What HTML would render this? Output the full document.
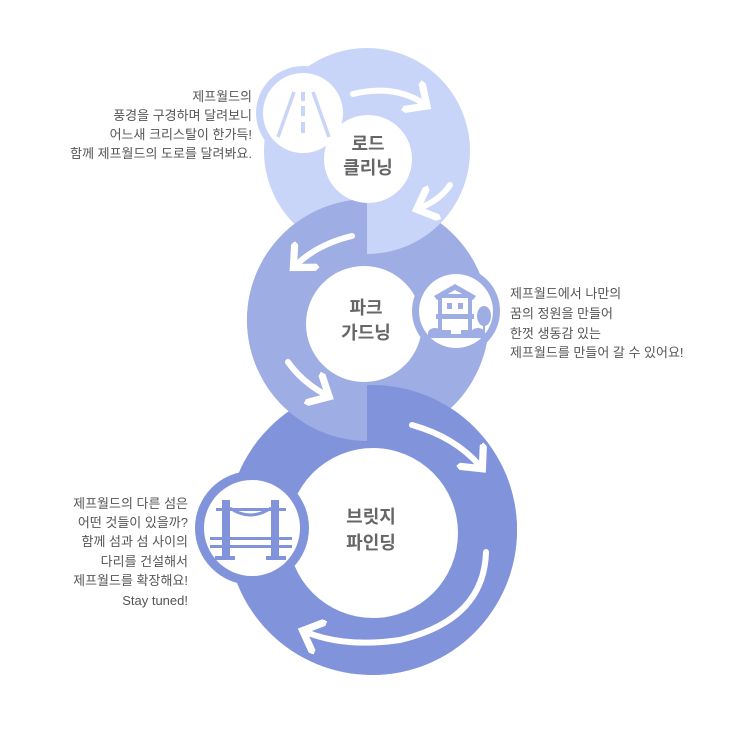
<!DOCTYPE html>
<html><head><meta charset="utf-8"><style>
html,body{margin:0;padding:0;background:#fff;}
svg{display:block}
text{font-family:"Liberation Sans","Noto Sans CJK KR",sans-serif;}
.t{font-size:13px;fill:#555;}
.lbl{font-size:18px;font-weight:bold;fill:#666;}
</style></head><body>
<svg width="735" height="735" viewBox="0 0 735 735" xmlns="http://www.w3.org/2000/svg">
<defs>
<clipPath id="L"><rect x="0" y="0" width="367" height="735"/></clipPath>
<clipPath id="R"><rect x="367" y="0" width="400" height="735"/></clipPath>
<marker id="ah" markerWidth="6" markerHeight="6" refX="2.6" refY="3" orient="auto" markerUnits="strokeWidth">
<path d="M0,0 L3.2,3 L0,6" fill="none" stroke="#fff" stroke-width="1.2" stroke-linejoin="miter"/>
</marker>
</defs>
<circle cx="372" cy="530" r="145" fill="#8194db"/>
<circle cx="368" cy="320" r="121" fill="#9eade3"/>
<circle cx="367" cy="151" r="103" fill="#c9d5f8"/>
<circle cx="303" cy="113" r="47" fill="#c9d5f8"/>
<circle cx="368" cy="320" r="121" fill="#9eade3" clip-path="url(#L)"/>
<circle cx="372" cy="530" r="145" fill="#8194db" clip-path="url(#R)"/>

<circle cx="368" cy="159" r="44" fill="#fff"/>
<circle cx="364" cy="324" r="58" fill="#fff"/>
<circle cx="373" cy="533" r="85" fill="#fff"/>

<g fill="none" stroke="#fff" stroke-width="6" stroke-linecap="round" marker-end="url(#ah)">
<path d="M353,94 Q395,84 424,104"/>
<path d="M450,185 Q440,200 420,208"/>
<path d="M352,236 Q318,244 296,265"/>
<path d="M288,362 Q302,382 326,395"/>
<path d="M412,425 Q455,437 480,466"/>
<path d="M486,552 Q484,620 400,640 Q345,648 306,632"/>
</g>

<!-- road icon -->
<circle cx="303" cy="113" r="40" fill="#fff"/>
<g fill="none" stroke="#c9d5f8" stroke-width="3.5">
<path d="M294,92 L278,137"/><path d="M313,92 L329,137"/>
</g>
<g fill="#c9d5f8"><rect x="301" y="92" width="4" height="9"/><rect x="301" y="106" width="4" height="10"/><rect x="301" y="122" width="4" height="11"/></g>

<!-- house icon -->
<circle cx="456" cy="311" r="44" fill="#9eade3"/>
<circle cx="456" cy="311" r="37" fill="#fff"/>
<g fill="#9eade3">
<path d="M434,296 L455,284 L476,296 L473,300 L455,290 L437,300 Z"/>
<rect x="440" y="296" width="30" height="36" fill="none" stroke="#9eade3" stroke-width="4"/>
<rect x="447" y="303" width="5" height="6"/><rect x="458" y="303" width="5" height="6"/>
<rect x="436" y="314" width="38" height="5"/>
<ellipse cx="484" cy="316" rx="7" ry="10"/><rect x="483" y="320" width="2" height="12"/>
<ellipse cx="435" cy="333" rx="7" ry="5"/><ellipse cx="478" cy="333" rx="7" ry="5"/>
<rect x="428" y="333" width="58" height="5"/>
</g>
<rect x="451" y="326" width="10" height="8" fill="#fff"/>

<!-- bridge icon -->
<circle cx="252" cy="528" r="57" fill="#8194db"/>
<circle cx="252" cy="528" r="48" fill="#fff"/>
<g fill="#8194db">
<rect x="222" y="500" width="8" height="60"/><rect x="271" y="500" width="8" height="60"/>
<rect x="216" y="508" width="70" height="3"/>
<rect x="210" y="537" width="82" height="3"/><rect x="210" y="545" width="82" height="3"/>
<rect x="215" y="556" width="20" height="4"/><rect x="266" y="556" width="20" height="4"/>
</g>
<path d="M230,508 Q250,522 271,508" fill="none" stroke="#8194db" stroke-width="3"/>

<text class="lbl" x="368" y="150" text-anchor="middle">로드</text>
<text class="lbl" x="368" y="174" text-anchor="middle">클리닝</text>
<text class="lbl" x="366" y="314" text-anchor="middle">파크</text>
<text class="lbl" x="366" y="339" text-anchor="middle">가드닝</text>
<text class="lbl" x="371" y="523" text-anchor="middle">브릿지</text>
<text class="lbl" x="371" y="549" text-anchor="middle">파인딩</text>

<g class="t" text-anchor="end">
<text x="252" y="101">제프월드의</text>
<text x="252" y="120">풍경을 구경하며 달려보니</text>
<text x="252" y="139">어느새 크리스탈이 한가득!</text>
<text x="252" y="158">함께 제프월드의 도로를 달려봐요.</text>
<text x="188" y="508">제프월드의 다른 섬은</text>
<text x="188" y="527">어떤 것들이 있을까?</text>
<text x="188" y="546">함께 섬과 섬 사이의</text>
<text x="188" y="566">다리를 건설해서</text>
<text x="188" y="585">제프월드를 확장해요!</text>
<text x="188" y="605">Stay tuned!</text>
</g>
<g class="t">
<text x="510" y="298">제프월드에서 나만의</text>
<text x="510" y="318">꿈의 정원을 만들어</text>
<text x="510" y="338">한껏 생동감 있는</text>
<text x="510" y="357">제프월드를 만들어 갈 수 있어요!</text>
</g>
</svg>
</body></html>
